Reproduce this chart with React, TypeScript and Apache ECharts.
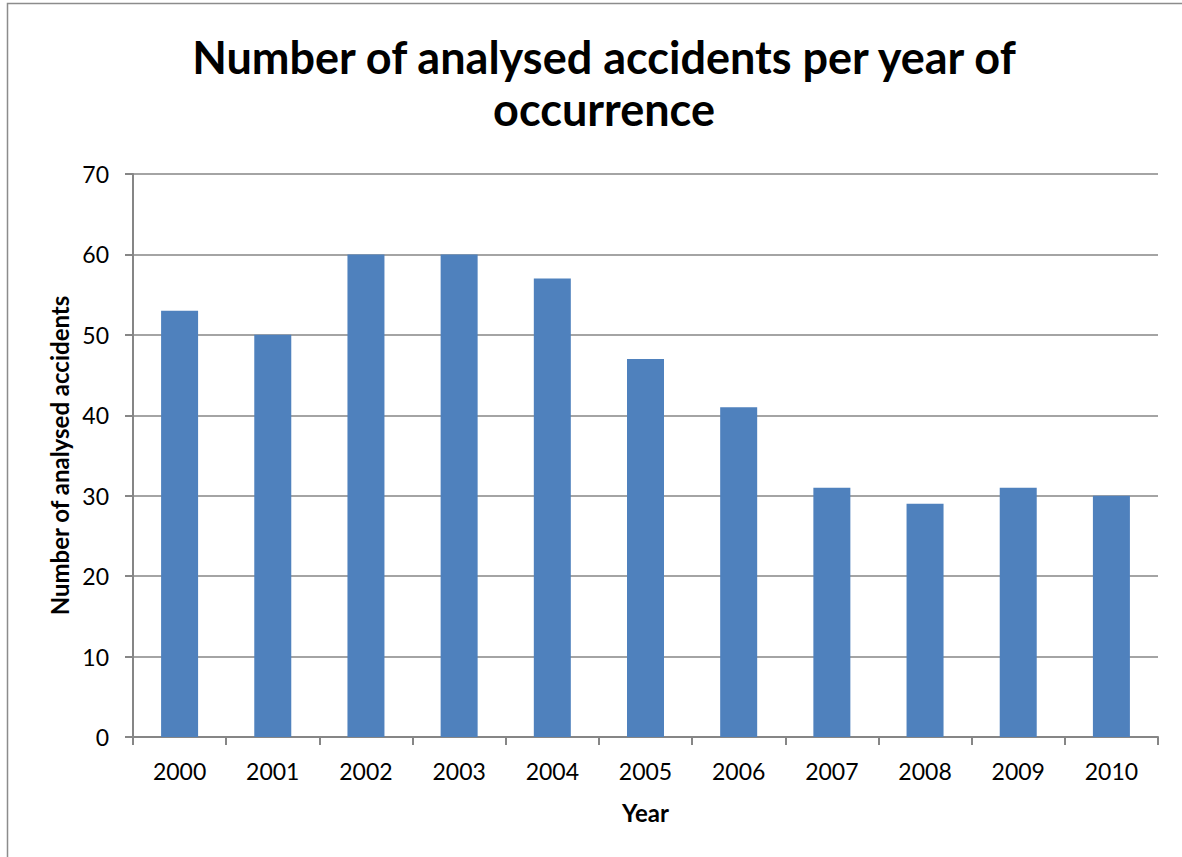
import React, { useEffect, useRef } from "react";
import * as echarts from "echarts";

const years = ["2000", "2001", "2002", "2003", "2004", "2005", "2006", "2007", "2008", "2009", "2010"];
const accidents = [53, 50, 60, 60, 57, 47, 41, 31, 29, 31, 30];
const titleText = "Number of analysed accidents per year of\noccurrence";
const yAxisName = "Number of analysed accidents";
const xAxisName = "Year";

const FONT = "Lato, 'Open Sans', sans-serif";

export default function App() {
  const ref = useRef<HTMLDivElement>(null);
  useEffect(() => {
    document.body.style.margin = "0";
    const chart = echarts.init(ref.current!, undefined, { renderer: "svg" });
    chart.setOption({
      animation: false,
      backgroundColor: "#ffffff",
      graphic: [
        {
          type: "rect",
          shape: { x: 7.5, y: 3.5, width: 1200, height: 900 },
          style: { fill: "none", stroke: "#8c8c8c", lineWidth: 1.5 },
          silent: true,
        },
      ],
      title: {
        text: titleText,
        left: 599,
        textAlign: "center",
        top: 26,
        textStyle: {
          fontFamily: FONT,
          fontWeight: "bold",
          fontSize: 45,
          lineHeight: 52,
          color: "#000",
        },
      },
      grid: { left: 133, right: 24, top: 174, bottom: 120 },
      xAxis: {
        type: "category",
        data: years,
        name: xAxisName,
        nameLocation: "middle",
        nameGap: 63,
        nameTextStyle: { fontFamily: FONT, fontWeight: "bold", fontSize: 24, color: "#000" },
        axisLine: { lineStyle: { color: "#868686", width: 2 } },
        axisTick: { show: true, length: 8, alignWithLabel: false, lineStyle: { color: "#868686", width: 2 } },
        axisLabel: { fontFamily: FONT, fontSize: 23, color: "#000", margin: 22 },
      },
      yAxis: {
        type: "value",
        min: 0,
        max: 70,
        interval: 10,
        name: yAxisName,
        nameLocation: "middle",
        nameGap: 61,
        nameRotate: 90,
        nameTextStyle: { fontFamily: FONT, fontWeight: "bold", fontSize: 24, color: "#000" },
        axisLine: { show: true, lineStyle: { color: "#868686", width: 2 } },
        axisTick: { show: true, length: 8, lineStyle: { color: "#868686", width: 2 } },
        axisLabel: { fontFamily: FONT, fontSize: 23, color: "#000", margin: 24 },
        splitLine: { lineStyle: { color: "#868686", width: 1.5 } },
      },
      series: [
        {
          type: "bar",
          data: accidents,
          barWidth: 37,
          itemStyle: { color: "#4F81BD" },
        },
      ],
    });
    return () => chart.dispose();
  }, []);
  return <div ref={ref} style={{ width: 1182, height: 857 }} />;
}
